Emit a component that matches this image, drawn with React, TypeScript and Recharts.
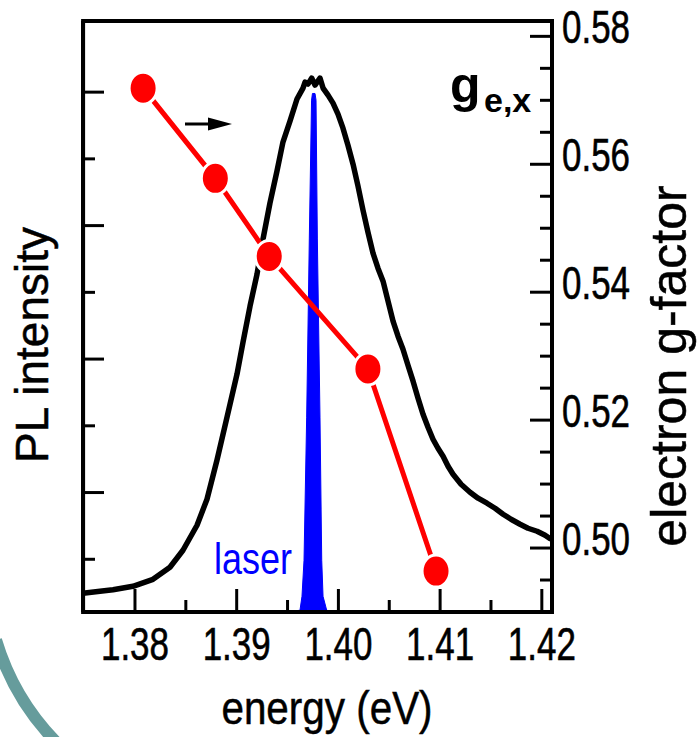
import { ComposedChart, Line, Area, XAxis, YAxis, ReferenceArea } from 'recharts'

// PL spectrum (black)
const plEnergy = [
  1.37489, 1.37656, 1.37784, 1.3798, 1.38177, 1.38344, 1.38472, 1.3861, 1.38708, 1.38806,
  1.38905, 1.39003, 1.39062, 1.39131, 1.392, 1.39259, 1.39327, 1.39396, 1.39455, 1.39524,
  1.39593, 1.39652, 1.39672, 1.39701, 1.39737, 1.3977, 1.39819, 1.39849, 1.39898, 1.39947,
  1.39996, 1.40045, 1.40094, 1.40144, 1.40193, 1.40242, 1.40291, 1.4034, 1.40389, 1.40439,
  1.40488, 1.40537, 1.40586, 1.40635, 1.40684, 1.40734, 1.40783, 1.40832, 1.40881, 1.4093,
  1.40979, 1.41029, 1.41078, 1.41127, 1.41206, 1.41294, 1.41373, 1.41461, 1.4154, 1.41619,
  1.41697, 1.41786, 1.41864, 1.41953, 1.42032, 1.4209,
]
const plIntensity = [
  0.49, 0.52, 0.543, 0.595, 0.7, 0.88, 1.135, 1.51, 1.9, 2.484,
  3.13, 3.774, 4.253, 4.793, 5.273, 5.798, 6.337, 6.817, 7.252, 7.567,
  7.897, 8.061, 8.151, 8.121, 8.211, 8.106, 8.211, 8.061, 7.955, 7.835,
  7.67, 7.46, 7.205, 6.92, 6.59, 6.23, 5.9, 5.588, 5.362, 5.168,
  4.868, 4.568, 4.343, 4.148, 3.908, 3.669, 3.414, 3.174, 2.979, 2.799,
  2.664, 2.544, 2.394, 2.274, 2.124, 2.005, 1.915, 1.84, 1.765, 1.675,
  1.6, 1.525, 1.465, 1.42, 1.36, 1.3,
]

// laser line (blue)
const laserEnergy = [
  1.39475, 1.39622, 1.39642, 1.39662, 1.39688, 1.39714, 1.39736, 1.39745,
  1.3977, 1.3978, 1.39793, 1.39819, 1.39836, 1.39849, 1.39885, 1.39967,
]
const laserIntensity = [
  0.22, 0.235, 0.445, 0.985, 3.13, 5.8, 7.88, 7.98,
  7.98, 7.88, 5.8, 3.13, 0.985, 0.445, 0.235, 0.22,
]

// electron g-factor (red)
const gEnergy = [1.3808, 1.3879, 1.3932, 1.4029, 1.4096]
const gFactor = [0.5719, 0.5578, 0.5456, 0.528, 0.4964]

const energyTicks = [1.38, 1.385, 1.39, 1.395, 1.4, 1.405, 1.41, 1.415, 1.42]
const gTicks = [
  0.495, 0.5, 0.505, 0.51, 0.515, 0.52, 0.525, 0.53, 0.535, 0.54,
  0.545, 0.55, 0.555, 0.56, 0.565, 0.57, 0.575, 0.58,
]
const plTicks = [1, 2, 3, 4, 5, 6, 7, 8]

const xDomain = [1.3749, 1.421]
const plDomain = [0.21, 9.066]
const gDomain = [0.49, 0.5824]

const plData = plEnergy.map((e, i) => ({ e, v: plIntensity[i] }))
const laserData = laserEnergy.map((e, i) => ({ e, v: laserIntensity[i] }))
const gData = gEnergy.map((e, i) => ({ e, g: gFactor[i] }))

const FONT = '"Liberation Sans", Arial, Helvetica, sans-serif'
const AXIS = { stroke: '#000', strokeWidth: 4 }

const XTick = ({ x, y, payload }: any) => {
  const v = payload.value
  const major = Math.round(v * 1000) % 10 === 0
  return (
    <g>
      <line x1={x} x2={x} y1={y} y2={y - (major ? 23 : 12)} stroke="#000" strokeWidth={3} />
      {major && (
        <text
          transform={`translate(${x},${y + 48}) scale(0.76,1)`}
          textAnchor="middle"
          fontSize={46}
          fontFamily={FONT}
          fill="#000"
          stroke="#000"
          strokeWidth={0.6}
        >
          {v.toFixed(2)}
        </text>
      )}
    </g>
  )
}

const LeftTick = ({ x, y, payload }: any) => {
  const long = payload.value % 2 === 0
  return <line x1={x} x2={x + (long ? 21 : 12)} y1={y} y2={y} stroke="#000" strokeWidth={3} />
}

const RightTick = ({ x, y, payload }: any) => {
  const v = payload.value
  const major = Math.round(v * 1000) % 20 === 0
  return (
    <g>
      <line x1={x} x2={x - (major ? 22 : 12)} y1={y} y2={y} stroke="#000" strokeWidth={3} />
      {major && (
        <text
          transform={`translate(${x + 10},${y + 7}) scale(0.76,1)`}
          fontSize={46}
          fontFamily={FONT}
          fill="#000"
          stroke="#000"
          strokeWidth={0.6}
        >
          {v.toFixed(2)}
        </text>
      )}
    </g>
  )
}

const RedDot = (props: any) => {
  const { cx, cy, index } = props
  return <ellipse key={index} cx={cx} cy={cy} rx={14} ry={16} fill="#ff0000" stroke="#fff" strokeWidth={3} />
}

export default function App() {
  return (
    <div style={{ position: 'absolute', left: 0, top: 0, width: 698, height: 737, background: '#fff', overflow: 'hidden' }}>
      <ComposedChart width={698} height={737} margin={{ top: 21, right: 46, bottom: 55, left: 3 }}>
        <XAxis
          dataKey="e"
          type="number"
          domain={xDomain}
          ticks={energyTicks}
          interval={0}
          tickSize={0}
          tickMargin={0}
          height={70}
          axisLine={AXIS}
          tickLine={false}
          tick={(p: any) => <XTick {...p} />}
        />
        <YAxis
          yAxisId="left"
          type="number"
          domain={plDomain}
          ticks={plTicks}
          interval={0}
          width={80}
          tickSize={0}
          tickMargin={0}
          axisLine={AXIS}
          tickLine={false}
          tick={(p: any) => <LeftTick {...p} />}
        />
        <YAxis
          yAxisId="right"
          orientation="right"
          type="number"
          domain={gDomain}
          ticks={gTicks}
          interval={0}
          width={100}
          tickSize={0}
          tickMargin={0}
          axisLine={AXIS}
          tickLine={false}
          tick={(p: any) => <RightTick {...p} />}
        />
        <ReferenceArea
          yAxisId="left"
          x1={xDomain[0]}
          x2={xDomain[1]}
          y1={plDomain[0]}
          y2={plDomain[1]}
          fill="none"
          fillOpacity={0}
          stroke="#000"
          strokeWidth={4}
          strokeOpacity={1}
        />
        <Line
          data={plData}
          dataKey="v"
          yAxisId="left"
          type="linear"
          stroke="#000"
          strokeWidth={5.5}
          strokeLinejoin="round"
          dot={false}
          isAnimationActive={false}
        />
        <Area
          data={laserData}
          dataKey="v"
          yAxisId="left"
          type="linear"
          stroke="#0000ff"
          strokeWidth={1}
          fill="#0000ff"
          fillOpacity={1}
          isAnimationActive={false}
        />
        <Line
          data={gData}
          dataKey="g"
          yAxisId="right"
          type="linear"
          stroke="#ff0000"
          strokeWidth={5}
          dot={RedDot}
          isAnimationActive={false}
        />
      </ComposedChart>
      <svg
        width={698}
        height={737}
        style={{ position: 'absolute', left: 0, top: 0, pointerEvents: 'none' }}
        fontFamily={FONT}
      >
        <path d="M -4 640 Q 14 700 58 744" fill="none" stroke="#669c9c" strokeWidth={12} />
        <line x1={185} x2={214} y1={124} y2={124} stroke="#000" strokeWidth={3} />
        <polygon points="208,117.5 232,124 208,130.5" fill="#000" />
        <text x={450} y={102} fontSize={50} fontWeight="bold" fill="#000">g</text>
        <text x={484} y={112} fontSize={34} fontWeight="bold" fill="#000">e,x</text>
        <text transform="translate(214,574) scale(0.8,1)" fontSize={45} fill="#0000ff">laser</text>
        <text
          transform="translate(327,724) scale(0.86,1)"
          textAnchor="middle"
          fontSize={47}
          fill="#000"
          stroke="#000"
          strokeWidth={0.5}
        >
          energy (eV)
        </text>
        <text
          transform="translate(48,345) rotate(-90)"
          textAnchor="middle"
          fontSize={46}
          fill="#000"
          stroke="#000"
          strokeWidth={0.5}
        >
          PL intensity
        </text>
        <text
          transform="translate(686,366) rotate(-90)"
          textAnchor="middle"
          fontSize={50}
          fill="#000"
          stroke="#000"
          strokeWidth={0.5}
        >
          electron g-factor
        </text>
      </svg>
    </div>
  )
}
